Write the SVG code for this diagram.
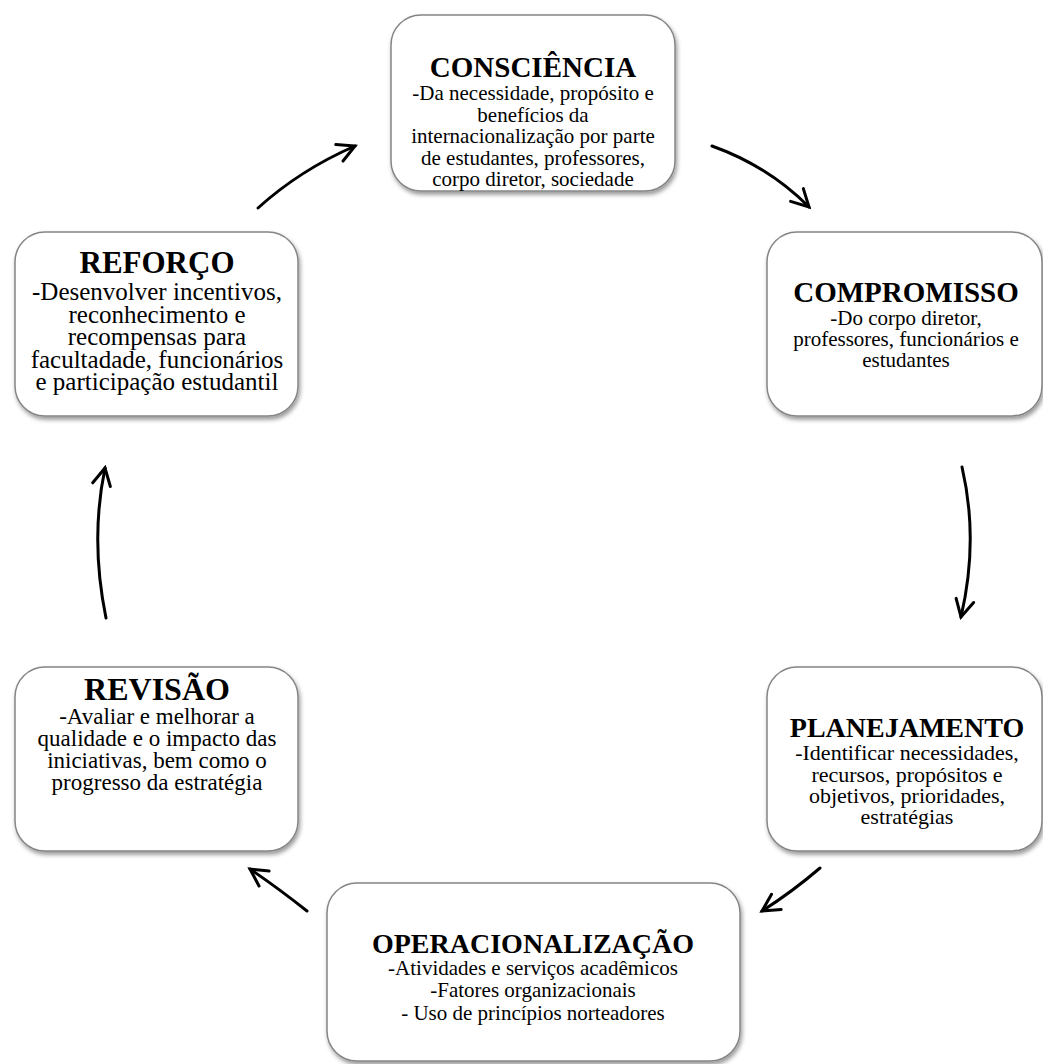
<svg xmlns="http://www.w3.org/2000/svg" width="1043" height="1064" viewBox="0 0 1043 1064">
<defs>
<filter id="sh" x="-10%" y="-10%" width="125%" height="130%">
<feDropShadow dx="1.5" dy="3" stdDeviation="2.2" flood-color="#000" flood-opacity="0.4"/>
</filter>
<marker id="ah" markerUnits="userSpaceOnUse" markerWidth="30" markerHeight="30" viewBox="-20 -15 25 30" refX="0" refY="0" orient="auto">
<path d="M-17,-9 L0,0 L-17,9" fill="none" stroke="#000" stroke-width="3" stroke-linecap="round" stroke-linejoin="miter"/>
</marker>
<style>
.box{fill:#fff;stroke:#858585;stroke-width:1.5;filter:url(#sh)}
.t{font-family:"Liberation Serif","Times New Roman",serif;font-weight:bold;text-anchor:middle;fill:#000}
.b{font-family:"Liberation Serif","Times New Roman",serif;text-anchor:middle;fill:#000}
.c{fill:none;stroke:#000;stroke-width:3;stroke-linecap:round;marker-end:url(#ah)}
</style>
</defs>
<rect width="1043" height="1064" fill="#fff"/>
<g id="connectors">
<path class="c" d="M258,208 Q300,170 355,146"/>
<path class="c" d="M712,146 Q768,166 809,207"/>
<path class="c" d="M962,467 Q979,540 961,617"/>
<path class="c" d="M820,868 Q792,892 762,911"/>
<path class="c" d="M307,911 Q278,888 250,869"/>
<path class="c" d="M106,618 Q90,540 105,468"/>
</g>
<g id="consciencia">
<rect class="box" x="391" y="15" width="284" height="176" rx="30"/>
<text class="t" x="533" y="77" font-size="29">CONSCIÊNCIA</text>
<text class="b" font-size="21"><tspan x="533" y="100">-Da necessidade, propósito e</tspan><tspan x="533" y="121.5">benefícios da</tspan><tspan x="533" y="143">internacionalização por parte</tspan><tspan x="533" y="164.5">de estudantes, professores,</tspan><tspan x="533" y="186">corpo diretor, sociedade</tspan></text>
</g>
<g id="compromisso">
<rect class="box" x="767" y="232" width="275" height="184" rx="30"/>
<text class="t" x="906" y="302" font-size="29">COMPROMISSO</text>
<text class="b" font-size="21"><tspan x="906" y="325">-Do corpo diretor,</tspan><tspan x="906" y="346">professores, funcionários e</tspan><tspan x="906" y="367">estudantes</tspan></text>
</g>
<g id="planejamento">
<rect class="box" x="767" y="667" width="275" height="184" rx="30"/>
<text class="t" x="907" y="737" font-size="28">PLANEJAMENTO</text>
<text class="b" font-size="22"><tspan x="907" y="760">-Identificar necessidades,</tspan><tspan x="907" y="782">recursos, propósitos e</tspan><tspan x="907" y="803">objetivos, prioridades,</tspan><tspan x="907" y="824">estratégias</tspan></text>
</g>
<g id="operacionalizacao">
<rect class="box" x="327" y="883" width="413" height="178" rx="30"/>
<text class="t" x="533" y="953" font-size="28">OPERACIONALIZAÇÃO</text>
<text class="b" font-size="21"><tspan x="533" y="975">-Atividades e serviços acadêmicos</tspan><tspan x="533" y="997">-Fatores organizacionais</tspan><tspan x="533" y="1020">- Uso de princípios norteadores</tspan></text>
</g>
<g id="revisao">
<rect class="box" x="15" y="667" width="283" height="184" rx="30"/>
<text class="t" x="157" y="700" font-size="32">REVISÃO</text>
<text class="b" font-size="23"><tspan x="157" y="724">-Avaliar e melhorar a</tspan><tspan x="157" y="746">qualidade e o impacto das</tspan><tspan x="157" y="768">iniciativas, bem como o</tspan><tspan x="157" y="790">progresso da estratégia</tspan></text>
</g>
<g id="reforco">
<rect class="box" x="15" y="232" width="283" height="184" rx="30"/>
<text class="t" x="157" y="273" font-size="31">REFORÇO</text>
<text class="b" font-size="25"><tspan x="157" y="300">-Desenvolver incentivos,</tspan><tspan x="157" y="323">reconhecimento e</tspan><tspan x="157" y="345">recompensas para</tspan><tspan x="157" y="368">facultadade, funcionários</tspan><tspan x="157" y="390">e participação estudantil</tspan></text>
</g>
</svg>
